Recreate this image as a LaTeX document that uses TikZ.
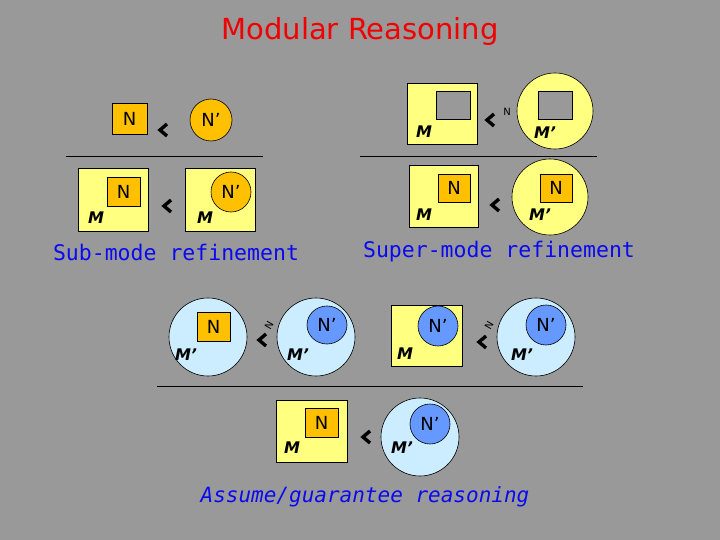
\documentclass[tikz,border=0pt]{standalone}
\usepackage{fontspec}
\setmainfont{DejaVu Sans}
\newfontfamily\monof{DejaVu Sans Mono}
\usetikzlibrary{shapes.geometric}
\begin{document}
\begin{tikzpicture}[x=1pt,y=-1pt,
 yb/.style={draw=black,fill=ylw,line width=0.6pt},
 ob/.style={draw=black,fill=org,line width=0.6pt,font=\fontsize{18}{18}\selectfont,inner sep=0pt},
 lb/.style={draw=black,fill=lblue,line width=0.6pt},
 bc/.style={draw=black,fill=dblue,line width=0.6pt,circle,minimum size=40pt,inner sep=0pt,font=\fontsize{18}{18}\selectfont},
 gs/.style={draw=black,fill=bg,line width=0.6pt},
 ml/.style={font=\bfseries\itshape\fontsize{16}{16}\selectfont,inner sep=0pt},
 captxt/.style={text=ttl,inner sep=0pt},
 small/.style={font=\fontsize{10}{10}\selectfont,inner sep=0pt},
 lt/.style={line width=3.4pt},
 rule/.style={line width=0.6pt}]
\definecolor{bg}{HTML}{999999}
\definecolor{ylw}{HTML}{FFFF80}
\definecolor{org}{HTML}{FFC000}
\definecolor{lblue}{HTML}{CCECFF}
\definecolor{dblue}{HTML}{6699FF}
\definecolor{ttl}{HTML}{0A0AF0}
\definecolor{titlered}{HTML}{F00000}
\def\chev#1#2{\draw[lt] (#1+4,#2-6) -- (#1-3,#2) -- (#1+4,#2+6);}
\fill[bg] (0,0) rectangle (720,540);
\useasboundingbox (0,0) rectangle (720,540);
\node[font=\fontsize{29}{29}\selectfont,text=titlered] (title) at (360,32) {Modular Reasoning};
% top-left
\node[ob,minimum width=35pt,minimum height=31pt] (tlN) at (129.5,118.5) {N};
\chev{163}{130}
\node[ob,circle,minimum size=42pt] (tlNp) at (211,120) {N'};
\draw[rule] (66,156) -- (263,156);
\draw[yb] (78,168) rectangle (148,231);
\node[ob,minimum width=33pt,minimum height=29pt] (blN) at (123.5,191.5) {N};
\node[ml] (blM) at (96,218) {M};
\chev{167}{206}
\draw[yb] (185,168) rectangle (255,231);
\node[ob,circle,minimum size=40pt] (blNp) at (231,192) {N'};
\node[ml] (blM2) at (205,218) {M};
\node[captxt,font=\monof\fontsize{21.5}{21.5}\selectfont] (sub) at (176,252) {Sub-mode refinement};
% top-right
\draw[yb] (407,83) rectangle (477,144);
\draw[gs] (436,91) rectangle (470,119);
\node[ml] (trM) at (424,132) {M};
\chev{490}{120}
\node[small] (trn) at (507,112) {N};
\draw[yb] (555,111) circle (38);
\draw[gs] (538,91) rectangle (572,119);
\node[ml] (trMp) at (545,133) {M'};
\draw[rule] (360,156) -- (597,156);
\draw[yb] (409,165) rectangle (478,227);
\node[ob,minimum width=32pt,minimum height=28pt] (brN) at (454,188) {N};
\node[ml] (brM) at (424,215) {M};
\chev{495}{205}
\draw[yb] (550,197) circle (38);
\node[ob,minimum width=32pt,minimum height=28pt] (brN2) at (556,188) {N};
\node[ml] (brMp) at (540,215) {M'};
\node[captxt,font=\monof\fontsize{21.5}{21.5}\selectfont] (sup) at (499,252) {Super-mode refinement};
% bottom
\draw[lb] (208,337) circle (39);
\node[ob,minimum width=33pt,minimum height=29pt] (aN) at (213.5,326.5) {N};
\node[ml] (aM) at (186,355) {M'};
\chev{262}{340}
\node[small,rotate=60] (an) at (269,325) {N};
\draw[lb] (316,337) circle (39);
\node[bc,ellipse,minimum width=40pt,minimum height=38pt] (aNp) at (327,325) {N'};
\node[ml] (aMp) at (298,355) {M'};
\draw[yb] (391,305) rectangle (462,366);
\node[bc] (bNp) at (438,326) {N'};
\node[ml] (bM) at (405,354) {M};
\chev{482}{342}
\node[small,rotate=60] (bn) at (489,325) {N};
\draw[lb] (536,337) circle (39);
\node[bc] (bNp2) at (546,325) {N'};
\node[ml] (bMp) at (522,355) {M'};
\draw[rule] (157,386) -- (583,386);
\draw[yb] (276,400) rectangle (347,462);
\node[ob,minimum width=33pt,minimum height=29pt] (cN) at (321.5,422.5) {N};
\node[ml] (cM) at (292,448) {M};
\chev{366}{437}
\draw[lb] (420,437) circle (39);
\node[bc] (cNp) at (430,424) {N'};
\node[ml] (cMp) at (402,448) {M'};
\node[captxt,font=\monof\itshape\fontsize{21}{21}\selectfont] (ag) at (365,497) {Assume/guarantee reasoning};
\end{tikzpicture}
\end{document}
